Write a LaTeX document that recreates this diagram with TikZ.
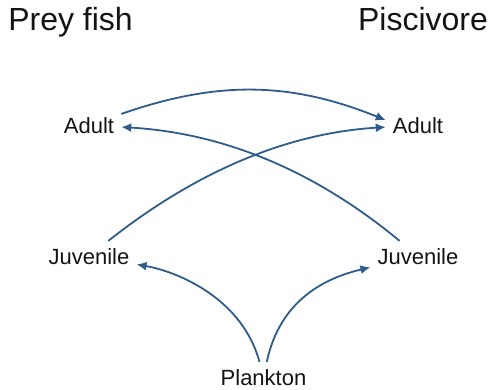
\documentclass[tikz,border=0pt]{standalone}
\usepackage{fontspec}
\setmainfont{Liberation Sans}
\usetikzlibrary{arrows.meta}
\definecolor{arrblue}{RGB}{46,92,140}
\definecolor{txt}{RGB}{20,20,20}
\begin{document}
\begin{tikzpicture}[x=1pt,y=-1pt,
  title/.style={font=\fontsize{32}{36}\selectfont, text=txt, anchor=base, inner sep=0pt},
  lbl/.style={font=\fontsize{22}{26}\selectfont, text=txt, anchor=base, inner sep=7pt},
  arr/.style={draw=arrblue, line width=1.8pt, -{Latex[length=10pt,width=9pt]}}]
\useasboundingbox (0,0) rectangle (493,389);
\node[title] (tp) at (70.5,30) {Prey fish};
\node[title] (tq) at (423,30) {Piscivore};
\node[lbl] (la) at (89,133) {Adult};
\node[lbl] (ra) at (418,133) {Adult};
\node[lbl] (lj) at (89,264) {Juvenile};
\node[lbl] (rj) at (418,264) {Juvenile};
\node[lbl] (pl) at (263.5,385) {Plankton};
\draw[arr] (la) .. controls (216,81) and (289,81) .. ([yshift=5pt]ra.west);
\draw[arr] (rj) .. controls (314,170) and (223,133) .. (la);
\draw[arr] (lj) .. controls (198,170) and (289,133) .. (ra);
\draw[arr] (pl) .. controls (243,300) and (180,272) .. (lj);
\draw[arr] (pl) .. controls (280,300) and (325,278) .. (rj);
\end{tikzpicture}
\end{document}
